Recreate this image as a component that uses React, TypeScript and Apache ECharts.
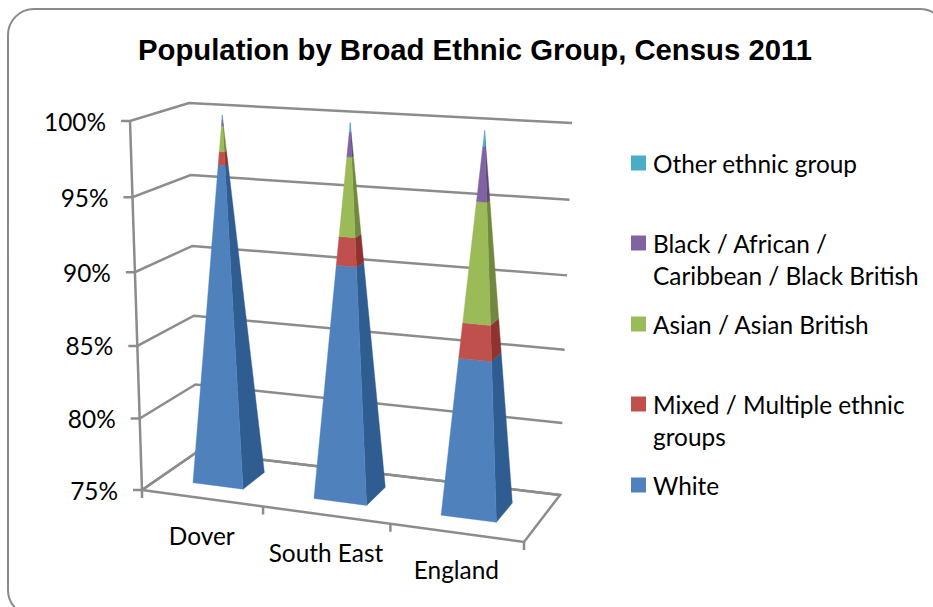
import React, { useEffect, useRef } from "react";
import * as echarts from "echarts";

const categories = ["Dover", "South East", "England"];
const seriesNames = [
  "White",
  "Mixed / Multiple ethnic groups",
  "Asian / Asian British",
  "Black / African / Caribbean / Black British",
  "Other ethnic group",
];
const white = [96.7, 90.7, 85.4];
const mixed = [0.9, 1.9, 2.3];
const asian = [1.7, 5.2, 7.8];
const black = [0.4, 1.6, 3.5];
const other = [0.3, 0.6, 1.0];
const yTicks = [75, 80, 85, 90, 95, 100];
const legendLabels: Record<string, string> = {
  "Other ethnic group": "Other ethnic group",
  "Black / African / Caribbean / Black British": "\nBlack / African /\nCaribbean / Black British",
  "Asian / Asian British": "Asian / Asian British",
  "Mixed / Multiple ethnic groups": "\nMixed / Multiple ethnic\ngroups",
  White: "White",
};
const legendCenters = [485, 404, 324, 243, 163];
const legendLines = [1, 3, 1, 3, 1];
const frontColors = ["#4F81BD", "#C0504D", "#9BBB59", "#8064A2", "#4BACC6"];
const sideColors = ["#2F5D92", "#8E3330", "#71893E", "#5C4776", "#337E92"];

const GRID = { left: 100, top: 100, width: 300, height: 300 };
const FL = [[142, 490], [130, 121]];
const BL = [[197, 452], [189, 103]];
const BR = [[560, 495], [572, 123]];
const FR = [[524, 542], [535, 147]];
const LINE = "#8C8C8C";
const TEXT_FONT = "24.4px Lato";

const lerp = (a: number[], b: number[], t: number) => [a[0] + (b[0] - a[0]) * t, a[1] + (b[1] - a[1]) * t];

function project(u: number, v: number, w: number) {
  const uu = u - 0.074 * u * (1 - u);
  const ww = w - 0.04 * w * (1 - w);
  const fl = lerp(FL[0], FL[1], ww);
  const bl = lerp(BL[0], BL[1], ww);
  const br = lerp(BR[0], BR[1], ww);
  const fr = lerp(FR[0], FR[1], ww);
  const front = lerp(fl, fr, uu);
  const back = lerp(bl, br, uu);
  return lerp(front, back, v);
}

const toU = (px: number) => (px - GRID.left) / GRID.width;
const toW = (py: number) => (GRID.top + GRID.height - py) / GRID.height;

const stacks = [white, mixed, asian, black, other];
function rowsFor(idx: number) {
  return categories.map((_, c) => {
    let lo = 75;
    if (idx > 0) {
      lo = 0;
      for (let s = 0; s < idx; s++) lo += stacks[s][c];
    }
    const hi = idx === 0 ? stacks[0][c] : lo + stacks[idx][c];
    return [c, lo, Math.min(hi, 100)];
  });
}

const pyramidRender = (idx: number) => (_p: any, api: any) => {
  const cat = api.value(0);
  const a = api.coord([cat, api.value(1)]);
  const b = api.coord([cat, api.value(2)]);
  const band = api.size([1, 0])[0];
  const half = (band * 0.21) / GRID.width;
  const uc = toU(a[0]);
  const vc = 0.52;
  const dv = 0.21;
  const wa = toW(a[1]);
  const wb = toW(b[1]);
  const ha = half * (1 - wa);
  const hb = half * (1 - wb);
  const da = dv * (1 - wa);
  const db = dv * (1 - wb);
  const frontFace = [
    project(uc - ha, vc - da, wa),
    project(uc + ha, vc - da, wa),
    project(uc + hb, vc - db, wb),
    project(uc - hb, vc - db, wb),
  ];
  const sideFace = [
    project(uc + ha, vc - da, wa),
    project(uc + ha, vc + da, wa),
    project(uc + hb, vc + db, wb),
    project(uc + hb, vc - db, wb),
  ];
  return {
    type: "group",
    children: [
      { type: "polygon", shape: { points: sideFace }, style: { fill: sideColors[idx], stroke: sideColors[idx], lineWidth: 0.4 } },
      { type: "polygon", shape: { points: frontFace }, style: { fill: frontColors[idx], stroke: frontColors[idx], lineWidth: 0.4 } },
    ],
  };
};

const wallRender = (_p: any, api: any) => {
  const value = api.value(1);
  const c = api.coord([0, value]);
  const w = toW(c[1]);
  const a = project(0, 0, w);
  const b = project(0, 1, w);
  const d = project(1, 1, w);
  const lineStyle = { stroke: LINE, lineWidth: 2.5, fill: "none" };
  return {
    type: "group",
    children: [
      { type: "polyline", shape: { points: [[a[0] - 9, a[1]], a, b, d] }, style: lineStyle },
      {
        type: "text",
        x: a[0] - 24,
        y: a[1],
        style: { text: `${value}%`, font: TEXT_FONT, fill: "#000", align: "right", verticalAlign: "middle" },
      },
    ],
  };
};

const floorRender = (_p: any, api: any) => {
  const lineStyle = { stroke: LINE, lineWidth: 2.5, fill: "none" };
  const children: any[] = [
    { type: "polyline", shape: { points: [project(0, 0, 1), project(0, 0, 0)] }, style: lineStyle },
    { type: "polyline", shape: { points: [project(0, 0, 0), project(1, 0, 0), project(1, 1, 0), project(0, 1, 0), project(0, 0, 0)] }, style: lineStyle },
  ];
  const band = api.size([1, 0])[0];
  for (let i = 0; i <= categories.length; i++) {
    const px = api.coord([0, 75])[0] - band / 2 + band * i;
    const p = project(toU(px), 0, 0);
    children.push({ type: "polyline", shape: { points: [p, [p[0], p[1] + 8]] }, style: lineStyle });
  }
  return { type: "group", children };
};

const labelRender = (_p: any, api: any) => {
  const cat = api.value(0);
  const c = api.coord([cat, 75]);
  const p = project(toU(c[0]), 0, 0);
  return {
    type: "text",
    x: p[0],
    y: p[1] + 37,
    style: { text: categories[cat], font: TEXT_FONT, fill: "#000", align: "center", verticalAlign: "middle" },
  };
};

export default function App() {
  const ref = useRef<HTMLDivElement>(null);
  useEffect(() => {
    const chart = echarts.init(ref.current!, undefined, { renderer: "svg" });
    chart.setOption({
      animation: false,
      backgroundColor: "#fff",
      title: {
        text: "Population by Broad Ethnic Group, Census 2011",
        left: 138,
        top: 35,
        padding: 0,
        textStyle: { fontFamily: "Liberation Sans", fontWeight: "bold", fontSize: 29.3, color: "#000" },
      },
      graphic: [
        {
          type: "rect",
          silent: true,
          z: -1,
          shape: { x: 8, y: 9, width: 938, height: 607, r: 26 },
          style: { fill: "#fff", stroke: "#8A8A8A", lineWidth: 2 },
        },
      ],
      grid: { ...GRID },
      xAxis: { type: "category", data: categories, show: false },
      yAxis: { type: "value", min: 75, max: 100, interval: 5, show: false },
      legend: seriesNames.map((name, i) => ({
        data: [name],
        left: 631,
        top: legendCenters[i] - (legendLines[i] * 32) / 2,
        padding: 0,
        orient: "vertical",
        icon: "rect",
        itemWidth: 15,
        itemHeight: 15,
        itemGap: 0,
        selectedMode: false,
        formatter: (n: string) => legendLabels[n],
        textStyle: { fontFamily: "Lato", fontSize: 24.4, color: "#000", lineHeight: 32, padding: [0, 0, 0, 2] },
      })),
      series: [
        {
          type: "custom",
          name: "floor",
          silent: true,
          renderItem: floorRender,
          data: [[0, 75]],
          z: 1,
        },
        {
          type: "custom",
          name: "walls",
          silent: true,
          renderItem: wallRender,
          data: yTicks.map((t) => [0, t]),
          z: 1,
        },
        {
          type: "custom",
          name: "categories",
          silent: true,
          renderItem: labelRender,
          data: categories.map((_, i) => [i, 75]),
          z: 1,
        },
        ...seriesNames.map((name, i) => ({
          type: "custom",
          name,
          silent: true,
          itemStyle: { color: frontColors[i] },
          renderItem: pyramidRender(i),
          data: rowsFor(i),
          z: 2,
        })),
      ],
    });
    return () => chart.dispose();
  }, []);
  return <div ref={ref} style={{ position: "absolute", left: 0, top: 0, width: 933, height: 607 }} />;
}
